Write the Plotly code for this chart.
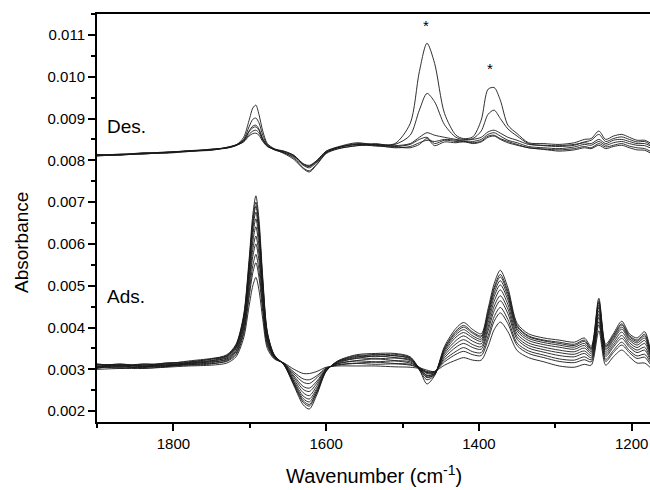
import numpy as np
import plotly.graph_objects as go

# Wavenumber grid (cm^-1)
wavenumber = [1900, 1870, 1840, 1810, 1780, 1750, 1730, 1718, 1708, 1701, 1696, 1692, 1688, 1683,
              1677, 1668, 1655, 1642, 1630, 1622, 1612, 1600, 1585, 1560, 1535, 1510, 1490, 1478,
              1468, 1458, 1445, 1430, 1420, 1408, 1397, 1388, 1380, 1372, 1362, 1350, 1335, 1315,
              1295, 1275, 1262, 1253, 1243, 1234, 1224, 1213, 1203, 1193, 1183, 1176]

# Adsorption spectra (absorbance x 1000)
ads_1 = [3.10, 3.12, 3.10, 3.15, 3.18, 3.25, 3.35, 3.60, 4.30, 5.60, 6.70, 7.15, 6.60, 5.20, 3.90, 3.35, 3.10, 2.60, 2.15, 2.05, 2.40, 2.95, 3.20, 3.35, 3.38, 3.38, 3.30, 3.00, 2.65, 2.85, 3.55, 3.98, 4.12, 3.95, 3.85, 4.45, 5.05, 5.37, 4.95, 4.10, 3.85, 3.75, 3.70, 3.65, 3.75, 3.55, 4.70, 3.60, 3.85, 4.15, 3.85, 3.75, 3.90, 3.50]
ads_2 = [3.13, 3.08, 3.12, 3.13, 3.20, 3.26, 3.33, 3.58, 4.26, 5.51, 6.56, 7.00, 6.46, 5.12, 3.87, 3.34, 3.10, 2.63, 2.21, 2.12, 2.44, 2.96, 3.19, 3.33, 3.34, 3.36, 3.28, 3.02, 2.80, 2.88, 3.51, 3.92, 4.05, 3.89, 3.80, 4.38, 4.96, 5.27, 4.87, 4.05, 3.80, 3.70, 3.65, 3.60, 3.70, 3.51, 4.64, 3.56, 3.81, 4.09, 3.81, 3.70, 3.84, 3.46]
ads_3 = [3.06, 3.13, 3.07, 3.15, 3.15, 3.21, 3.32, 3.56, 4.23, 5.46, 6.48, 6.90, 6.38, 5.07, 3.85, 3.34, 3.11, 2.65, 2.25, 2.16, 2.47, 2.96, 3.18, 3.29, 3.36, 3.32, 3.27, 2.98, 2.75, 2.86, 3.49, 3.88, 4.01, 3.86, 3.77, 4.33, 4.91, 5.21, 4.81, 4.02, 3.78, 3.68, 3.62, 3.57, 3.67, 3.49, 4.60, 3.54, 3.78, 4.06, 3.78, 3.67, 3.80, 3.44]
ads_4 = [3.11, 3.07, 3.13, 3.10, 3.17, 3.24, 3.31, 3.54, 4.19, 5.38, 6.36, 6.76, 6.26, 5.00, 3.82, 3.33, 3.11, 2.68, 2.30, 2.22, 2.51, 2.97, 3.18, 3.31, 3.30, 3.33, 3.25, 3.03, 2.85, 2.90, 3.46, 3.83, 3.95, 3.80, 3.72, 4.27, 4.83, 5.12, 4.74, 3.97, 3.74, 3.64, 3.58, 3.53, 3.62, 3.46, 4.54, 3.50, 3.74, 4.01, 3.74, 3.63, 3.75, 3.41]
ads_5 = [3.04, 3.11, 3.06, 3.13, 3.13, 3.19, 3.29, 3.52, 4.15, 5.29, 6.22, 6.60, 6.12, 4.92, 3.79, 3.32, 3.11, 2.71, 2.36, 2.29, 2.55, 2.98, 3.17, 3.26, 3.32, 3.28, 3.23, 3.00, 2.82, 2.88, 3.42, 3.77, 3.88, 3.75, 3.67, 4.20, 4.74, 5.02, 4.66, 3.92, 3.69, 3.59, 3.53, 3.48, 3.57, 3.42, 4.48, 3.46, 3.70, 3.96, 3.70, 3.58, 3.69, 3.37]
ads_6 = [3.08, 3.05, 3.10, 3.08, 3.16, 3.21, 3.27, 3.49, 4.09, 5.18, 6.05, 6.41, 5.95, 4.82, 3.75, 3.31, 3.12, 2.75, 2.44, 2.37, 2.61, 2.99, 3.15, 3.27, 3.25, 3.27, 3.21, 3.04, 2.90, 2.92, 3.38, 3.69, 3.80, 3.67, 3.61, 4.11, 4.63, 4.90, 4.55, 3.85, 3.63, 3.53, 3.46, 3.42, 3.51, 3.38, 4.40, 3.41, 3.64, 3.89, 3.64, 3.52, 3.62, 3.33]
ads_7 = [3.12, 3.09, 3.04, 3.11, 3.11, 3.16, 3.25, 3.45, 4.03, 5.06, 5.87, 6.19, 5.77, 4.71, 3.70, 3.30, 3.12, 2.80, 2.52, 2.47, 2.67, 3.00, 3.14, 3.21, 3.25, 3.21, 3.18, 3.01, 2.86, 2.90, 3.33, 3.61, 3.71, 3.59, 3.54, 4.01, 4.51, 4.76, 4.44, 3.78, 3.57, 3.47, 3.40, 3.36, 3.44, 3.33, 4.32, 3.36, 3.58, 3.81, 3.58, 3.46, 3.53, 3.28]
ads_8 = [3.02, 3.10, 3.08, 3.07, 3.14, 3.18, 3.23, 3.42, 3.98, 4.95, 5.70, 6.00, 5.60, 4.61, 3.66, 3.29, 3.13, 2.84, 2.59, 2.55, 2.72, 3.01, 3.13, 3.20, 3.18, 3.20, 3.15, 3.05, 2.93, 2.93, 3.28, 3.53, 3.62, 3.52, 3.48, 3.92, 4.40, 4.64, 4.33, 3.72, 3.51, 3.41, 3.33, 3.30, 3.38, 3.28, 4.24, 3.31, 3.53, 3.74, 3.53, 3.40, 3.46, 3.23]
ads_9 = [3.07, 3.03, 3.06, 3.09, 3.10, 3.13, 3.21, 3.38, 3.90, 4.81, 5.48, 5.75, 5.38, 4.48, 3.61, 3.28, 3.14, 2.89, 2.69, 2.66, 2.80, 3.02, 3.11, 3.15, 3.17, 3.14, 3.12, 3.02, 2.92, 2.94, 3.23, 3.43, 3.52, 3.42, 3.40, 3.80, 4.26, 4.48, 4.19, 3.63, 3.44, 3.34, 3.25, 3.22, 3.30, 3.23, 4.14, 3.24, 3.45, 3.65, 3.45, 3.32, 3.36, 3.18]
ads_10 = [3.04, 3.06, 3.03, 3.06, 3.12, 3.14, 3.19, 3.35, 3.85, 4.70, 5.31, 5.55, 5.21, 4.38, 3.57, 3.27, 3.14, 2.93, 2.77, 2.75, 2.85, 3.03, 3.10, 3.14, 3.12, 3.13, 3.10, 3.04, 2.98, 2.95, 3.18, 3.36, 3.43, 3.35, 3.33, 3.71, 4.15, 4.35, 4.09, 3.57, 3.38, 3.28, 3.19, 3.16, 3.23, 3.18, 4.06, 3.19, 3.40, 3.58, 3.40, 3.26, 3.29, 3.13]
ads_11 = [3.00, 3.02, 3.02, 3.05, 3.08, 3.10, 3.15, 3.30, 3.75, 4.50, 5.00, 5.20, 4.90, 4.20, 3.50, 3.25, 3.15, 3.00, 2.90, 2.90, 2.95, 3.05, 3.08, 3.08, 3.08, 3.06, 3.05, 3.02, 2.95, 2.95, 3.10, 3.22, 3.28, 3.22, 3.22, 3.55, 3.95, 4.13, 3.90, 3.45, 3.28, 3.18, 3.08, 3.05, 3.12, 3.10, 3.92, 3.10, 3.30, 3.46, 3.30, 3.15, 3.15, 3.05]

# Desorption spectra (absorbance x 1000)
des_1 = [8.12, 8.14, 8.15, 8.19, 8.22, 8.26, 8.30, 8.36, 8.55, 8.95, 9.25, 9.32, 9.10, 8.70, 8.40, 8.28, 8.18, 8.05, 7.82, 7.75, 7.92, 8.18, 8.30, 8.38, 8.38, 8.40, 8.88, 10.12, 10.80, 10.32, 9.12, 8.60, 8.52, 8.56, 8.96, 9.70, 9.74, 9.44, 8.84, 8.64, 8.42, 8.40, 8.38, 8.42, 8.50, 8.52, 8.70, 8.50, 8.58, 8.62, 8.55, 8.48, 8.48, 8.42]
des_2 = [8.14, 8.13, 8.17, 8.18, 8.23, 8.25, 8.31, 8.37, 8.50, 8.80, 8.98, 9.01, 8.90, 8.60, 8.38, 8.27, 8.16, 8.02, 7.80, 7.72, 7.90, 8.16, 8.27, 8.35, 8.36, 8.38, 8.60, 9.20, 9.60, 9.40, 8.85, 8.55, 8.50, 8.52, 8.70, 9.10, 9.20, 9.00, 8.75, 8.58, 8.40, 8.35, 8.33, 8.36, 8.44, 8.48, 8.62, 8.45, 8.52, 8.56, 8.50, 8.44, 8.45, 8.38]
des_3 = [8.11, 8.15, 8.16, 8.20, 8.21, 8.27, 8.30, 8.36, 8.48, 8.70, 8.82, 8.84, 8.75, 8.52, 8.36, 8.26, 8.20, 8.10, 7.90, 7.85, 7.98, 8.20, 8.30, 8.40, 8.37, 8.35, 8.40, 8.55, 8.66, 8.60, 8.55, 8.50, 8.48, 8.50, 8.55, 8.68, 8.72, 8.65, 8.55, 8.48, 8.38, 8.36, 8.35, 8.38, 8.42, 8.40, 8.50, 8.40, 8.48, 8.50, 8.45, 8.40, 8.40, 8.35]
des_4 = [8.13, 8.12, 8.17, 8.18, 8.22, 8.24, 8.31, 8.37, 8.47, 8.68, 8.78, 8.80, 8.72, 8.50, 8.35, 8.25, 8.18, 8.08, 7.88, 7.82, 7.96, 8.18, 8.28, 8.35, 8.40, 8.33, 8.38, 8.50, 8.55, 8.40, 8.48, 8.45, 8.44, 8.45, 8.50, 8.62, 8.66, 8.58, 8.48, 8.42, 8.33, 8.30, 8.28, 8.32, 8.38, 8.36, 8.45, 8.36, 8.42, 8.45, 8.40, 8.36, 8.35, 8.30]
des_5 = [8.10, 8.14, 8.15, 8.19, 8.23, 8.26, 8.29, 8.35, 8.45, 8.62, 8.70, 8.72, 8.66, 8.48, 8.34, 8.27, 8.22, 8.12, 7.92, 7.88, 8.00, 8.22, 8.32, 8.42, 8.36, 8.30, 8.33, 8.42, 8.48, 8.45, 8.50, 8.48, 8.46, 8.42, 8.46, 8.58, 8.60, 8.52, 8.45, 8.38, 8.30, 8.27, 8.25, 8.28, 8.33, 8.30, 8.40, 8.32, 8.36, 8.40, 8.34, 8.30, 8.28, 8.22]
des_6 = [8.12, 8.13, 8.18, 8.17, 8.21, 8.25, 8.30, 8.36, 8.44, 8.58, 8.64, 8.65, 8.60, 8.45, 8.33, 8.26, 8.21, 8.11, 7.91, 7.86, 7.99, 8.21, 8.31, 8.38, 8.34, 8.32, 8.30, 8.38, 8.52, 8.35, 8.44, 8.42, 8.45, 8.40, 8.44, 8.55, 8.58, 8.50, 8.42, 8.36, 8.30, 8.26, 8.22, 8.25, 8.30, 8.28, 8.36, 8.28, 8.33, 8.36, 8.30, 8.25, 8.24, 8.18]

ads_spectra = [ads_1, ads_2, ads_3, ads_4, ads_5, ads_6, ads_7, ads_8, ads_9, ads_10, ads_11]
des_spectra = [des_1, des_2, des_3, des_4, des_5, des_6]

x_ticks = [1800, 1600, 1400, 1200]
x_minor = [1900, 1700, 1500, 1300]
y_ticks = [0.002, 0.003, 0.004, 0.005, 0.006, 0.007, 0.008, 0.009, 0.010, 0.011]

MILLI = 1000.0

fig = go.Figure()
for spec in des_spectra + ads_spectra:
    fig.add_trace(go.Scatter(
        x=wavenumber, y=np.array(spec) / MILLI, mode="lines",
        line=dict(color="#1a1a1a", width=0.9, shape="spline", smoothing=0.8),
        hoverinfo="skip", showlegend=False))

font_family = "Liberation Sans, Arial, Helvetica, sans-serif"

fig.update_layout(
    width=650, height=490,
    margin=dict(l=97, r=0, t=14, b=68),
    paper_bgcolor="white", plot_bgcolor="white",
    font=dict(family=font_family, size=15, color="black"),
    showlegend=False,
)

fig.update_xaxes(
    range=[1900, 1176], showline=True, linecolor="black", linewidth=2, mirror=True,
    ticks="outside", ticklen=7, tickwidth=1.5, tickcolor="black",
    tickvals=x_ticks, ticktext=[str(v) for v in x_ticks],
    minor=dict(tickvals=x_minor, ticks="outside", ticklen=4,
               tickwidth=1.5, tickcolor="black"),
    showgrid=False, zeroline=False, tickfont=dict(size=15),
)
fig.update_yaxes(
    range=[0.00174, 0.0115], showline=True, linecolor="black", linewidth=2, mirror=False,
    ticks="outside", ticklen=7, tickwidth=1.5, tickcolor="black",
    tickvals=y_ticks, ticktext=["%.3f" % v for v in y_ticks],
    minor=dict(dtick=0.0005, tick0=0, ticks="outside", ticklen=4,
               tickwidth=1.5, tickcolor="black"),
    showgrid=False, zeroline=False, tickfont=dict(size=15),
)

annotations = [
    dict(text="Wavenumber (cm<sup>-1</sup>)", xref="paper", yref="paper",
         x=0.5, y=-0.128, xanchor="center", yanchor="middle", showarrow=False,
         font=dict(size=20)),
    dict(text="Absorbance", xref="paper", yref="paper", x=-0.1374, y=0.4387,
         xanchor="center", yanchor="middle", textangle=-90, showarrow=False,
         font=dict(size=19)),
    dict(text="Des.", x=1889, y=0.00882, xanchor="left", yanchor="middle",
         showarrow=False, font=dict(size=19)),
    dict(text="Ads.", x=1889, y=0.00475, xanchor="left", yanchor="middle",
         showarrow=False, font=dict(size=19)),
    dict(text="*", x=1469, y=0.01122, xanchor="center", yanchor="middle",
         showarrow=False, font=dict(size=15)),
    dict(text="*", x=1386, y=0.01019, xanchor="center", yanchor="middle",
         showarrow=False, font=dict(size=15)),
]
fig.update_layout(annotations=annotations)

fig.write_html("out.html")
